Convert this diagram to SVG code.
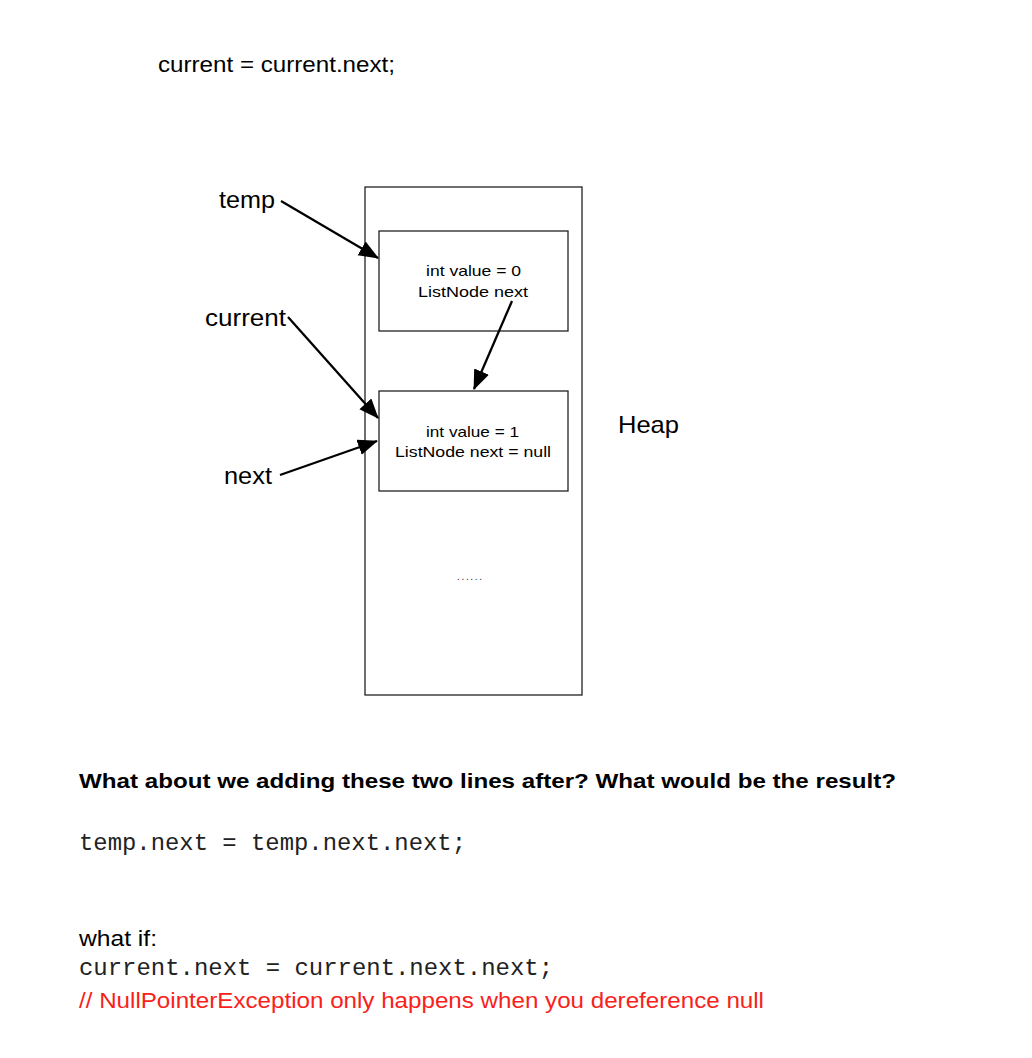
<svg xmlns="http://www.w3.org/2000/svg" width="1032" height="1058" viewBox="0 0 1032 1058">
<style>
.sans{font-family:"Liberation Sans",Arial,Helvetica,sans-serif;fill:#000}
.mono{font-family:"Liberation Mono","Courier New",monospace;fill:#222}
.box{fill:#fff;stroke:#222;stroke-width:1.3}
.conn{stroke:#000;stroke-width:2.3;fill:none}
</style>
<defs>
<marker id="arr" markerUnits="userSpaceOnUse" markerWidth="22" markerHeight="18" refX="19" refY="8" orient="auto">
<path d="M0,0 L20,8 L0,16 z" fill="#000"/>
</marker>
</defs>
<rect width="1032" height="1058" fill="#fff"/>
<text class="sans" x="158" y="72" font-size="22" textLength="237" lengthAdjust="spacingAndGlyphs">current = current.next;</text>

<g id="heap">
<rect class="box" x="365" y="187" width="217" height="508"/>
<text class="sans" x="618" y="433" font-size="24" textLength="61" lengthAdjust="spacingAndGlyphs">Heap</text>
<text class="sans" x="457" y="580" font-size="10" textLength="25" lengthAdjust="spacing" fill="#333" style="fill:#333">......</text>
</g>
<g id="node0">
<rect class="box" x="379" y="231" width="189" height="100"/>
<text class="sans" x="426" y="276" font-size="14.5" textLength="95" lengthAdjust="spacingAndGlyphs">int value = 0</text>
<text class="sans" x="418" y="297" font-size="14.5" textLength="110" lengthAdjust="spacingAndGlyphs">ListNode next</text>
</g>
<g id="node1">
<rect class="box" x="379" y="391" width="189" height="100"/>
<text class="sans" x="426" y="437" font-size="14.5" textLength="93" lengthAdjust="spacingAndGlyphs">int value = 1</text>
<text class="sans" x="395" y="457" font-size="14.5" textLength="156" lengthAdjust="spacingAndGlyphs">ListNode next = null</text>
</g>
<g id="var-temp"><text class="sans" x="219" y="208" font-size="23" textLength="56" lengthAdjust="spacingAndGlyphs">temp</text></g>
<g id="var-current"><text class="sans" x="205" y="326" font-size="23" textLength="81" lengthAdjust="spacingAndGlyphs">current</text></g>
<g id="var-next"><text class="sans" x="224" y="484" font-size="23" textLength="48" lengthAdjust="spacingAndGlyphs">next</text></g>

<g id="connectors">
<line class="conn" x1="281" y1="201" x2="378" y2="258" marker-end="url(#arr)"/>
<line class="conn" x1="288" y1="317" x2="378" y2="418" marker-end="url(#arr)"/>
<line class="conn" x1="280" y1="475" x2="377" y2="441" marker-end="url(#arr)"/>
<line class="conn" x1="512" y1="301" x2="474" y2="389" marker-end="url(#arr)"/>
</g>

<text class="sans" x="79" y="788" font-size="21" font-weight="bold" textLength="817" lengthAdjust="spacingAndGlyphs">What about we adding these two lines after? What would be the result?</text>
<text class="mono" x="79" y="850" font-size="23" textLength="387" lengthAdjust="spacingAndGlyphs">temp.next = temp.next.next;</text>
<text class="sans" x="79" y="946" font-size="22" textLength="78" lengthAdjust="spacingAndGlyphs">what if:</text>
<text class="mono" x="79" y="975" font-size="23" textLength="474" lengthAdjust="spacingAndGlyphs">current.next = current.next.next;</text>
<text class="sans" x="79" y="1008" font-size="22" fill="#f8221a" style="fill:#f8221a" textLength="685" lengthAdjust="spacingAndGlyphs">// NullPointerException only happens when you dereference null</text>
</svg>
